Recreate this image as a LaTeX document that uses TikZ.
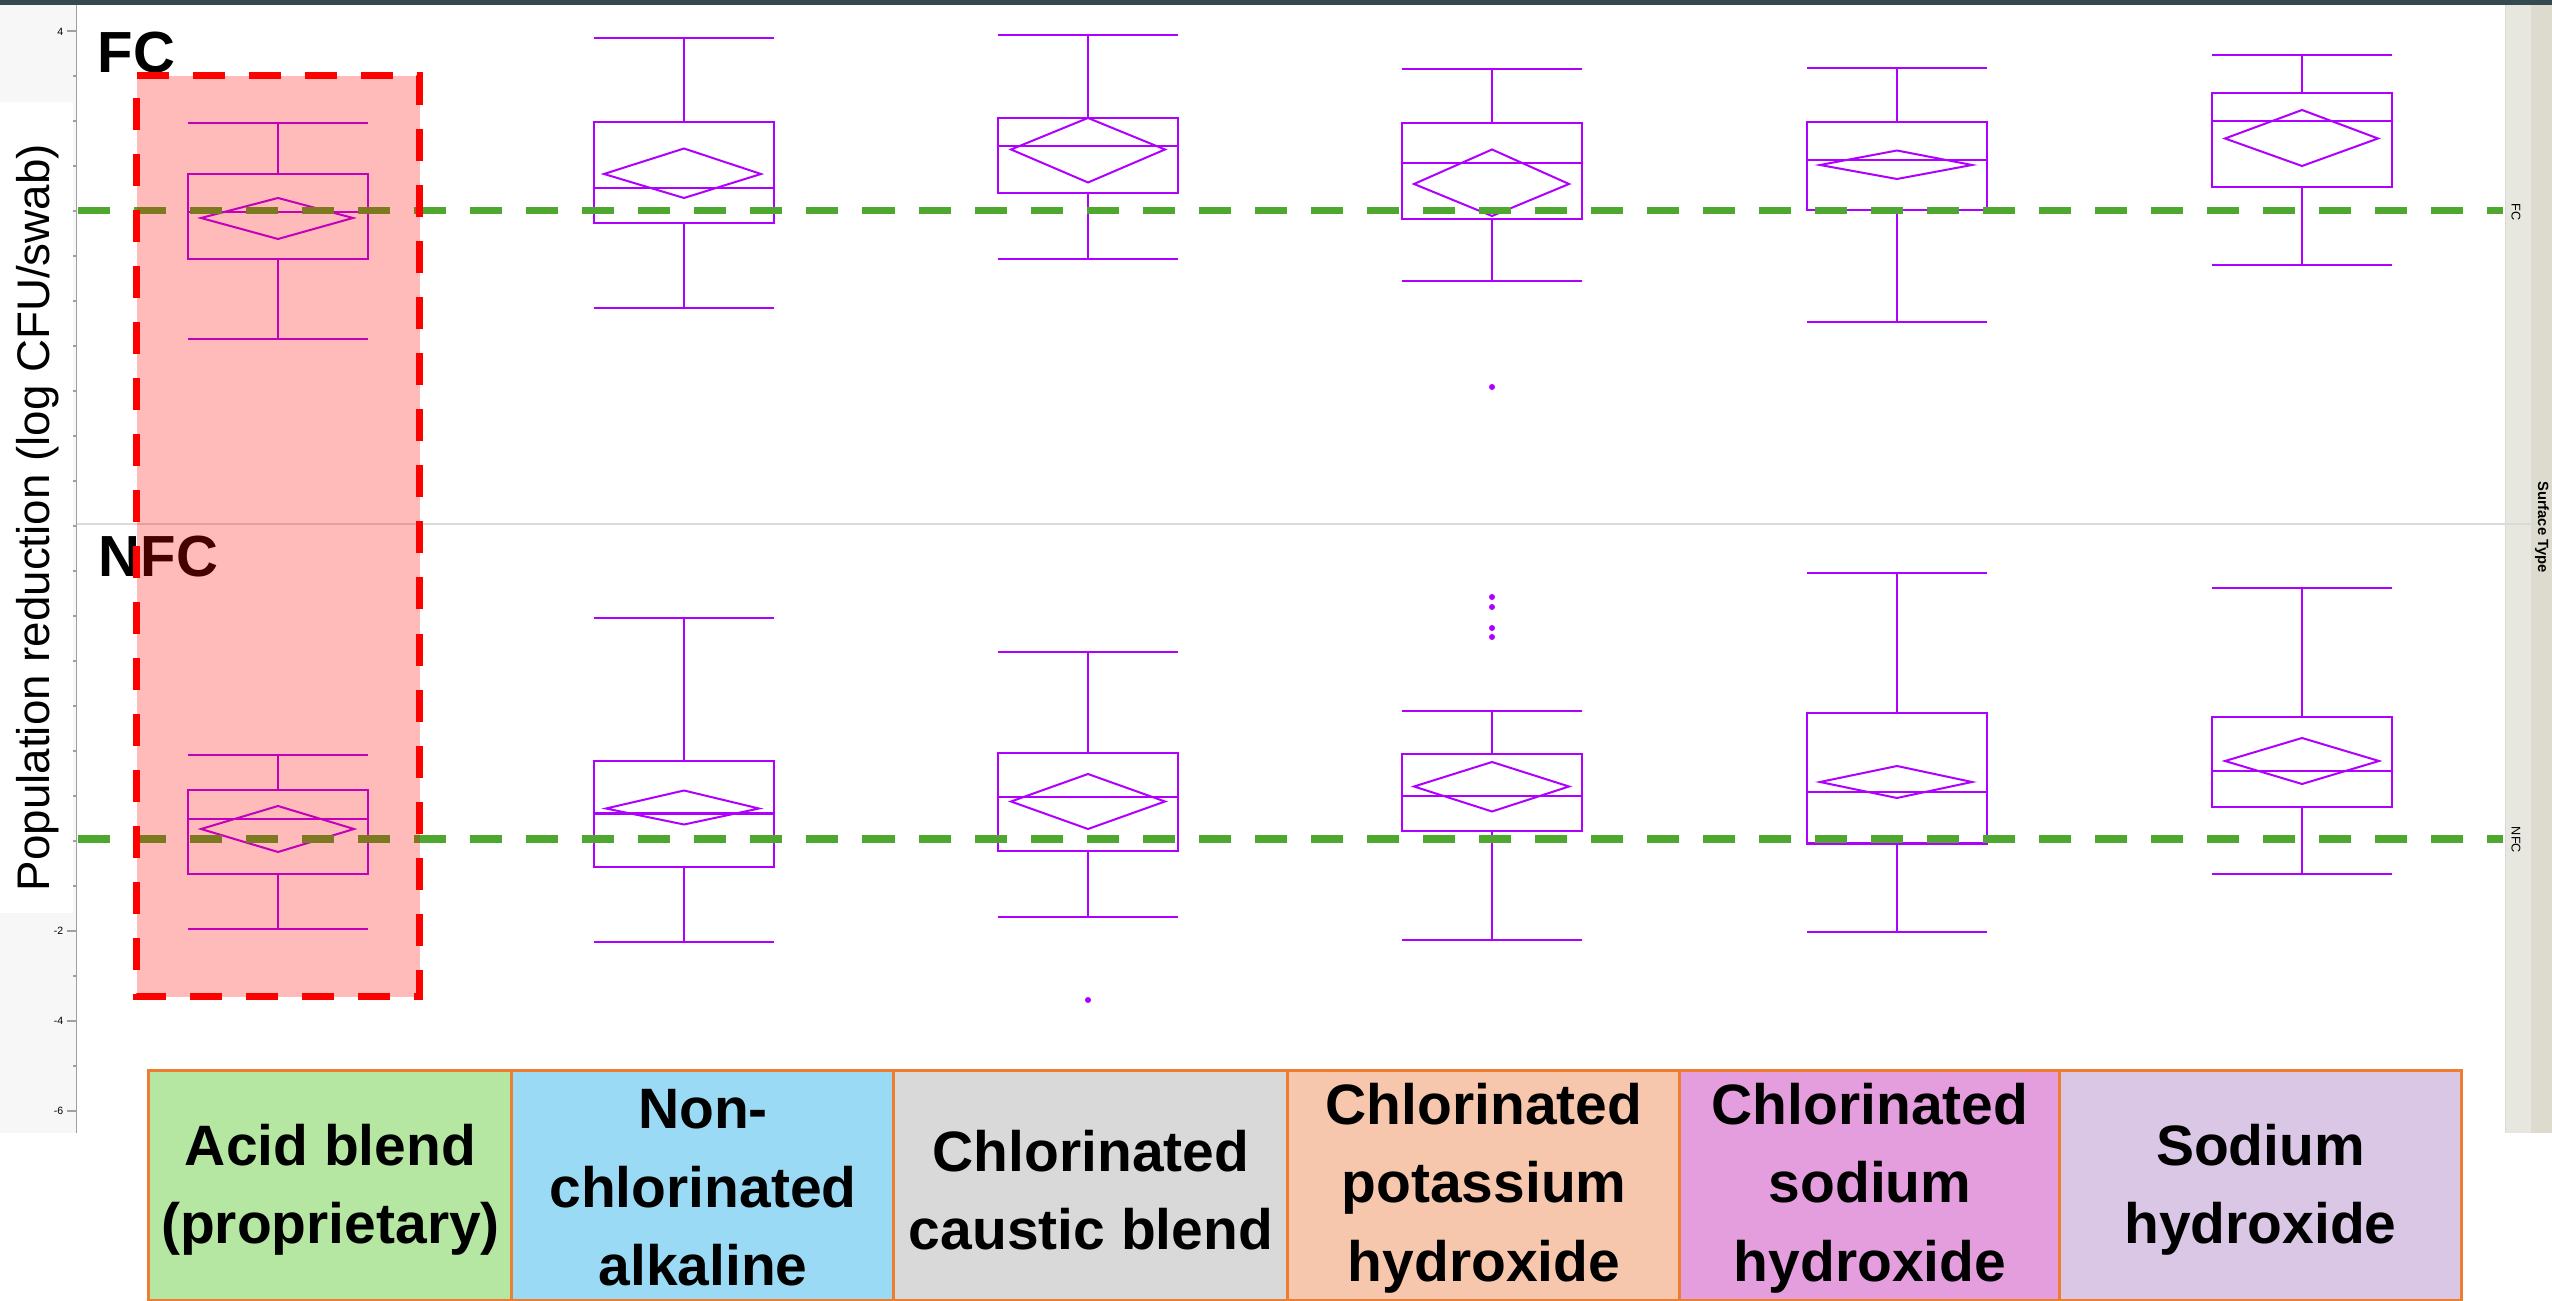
\documentclass[tikz,border=0pt]{standalone}
\usepackage{fontspec}
\setmainfont{Liberation Sans}
\definecolor{bp}{RGB}{175,0,255}
\definecolor{gl}{RGB}{78,167,46}
\definecolor{topbar}{RGB}{52,74,80}
\definecolor{panelgray}{RGB}{247,247,247}
\definecolor{axisgray}{RGB}{160,160,160}
\definecolor{divgray}{RGB}{218,218,218}
\definecolor{stripA}{RGB}{231,231,223}
\definecolor{stripB}{RGB}{220,219,206}
\definecolor{catborder}{RGB}{237,125,49}
\definecolor{cA}{RGB}{181,230,162}
\definecolor{cB}{RGB}{155,218,245}
\definecolor{cC}{RGB}{217,217,217}
\definecolor{cD}{RGB}{246,198,173}
\definecolor{cE}{RGB}{229,158,221}
\definecolor{cF}{RGB}{217,199,229}
\tikzset{
  bpline/.style={draw=bp, line width=0.02cm},
  gline/.style={draw=gl, line width=0.07cm, dash pattern=on 0.32cm off 0.24cm},
  reddash/.style={draw=red, line width=0.07cm, dash pattern=on 0.32cm off 0.24cm},
  catbox/.style={draw=catborder, line width=0.03cm, minimum height=2.29cm, align=center, inner sep=0pt,
     font=\fontsize{16.2pt}{22.3pt}\selectfont\bfseries},
  ticklab/.style={anchor=east, inner sep=0pt, font=\fontsize{3pt}{3.5pt}\selectfont},
  panellab/.style={anchor=base west, inner sep=0pt, font=\fontsize{16.5pt}{18pt}\selectfont\bfseries},
  striplab/.style={rotate=-90, inner sep=0pt, font=\fontsize{3.6pt}{4pt}\selectfont},
  tickmark/.style={draw=axisgray, line width=0.012cm},
}
\begin{document}
\begin{tikzpicture}[x=0.01cm, y=-0.01cm]
\useasboundingbox (0,0) rectangle (2552,1301);
\fill[white] (0,0) rectangle (2552,1301);
% top bar
\fill[topbar] (0,0) rectangle (2552,5);
% left axis panel
\fill[panelgray] (0,5) rectangle (76,1133);
% ticks (long = labelled values, short = odd values)
\foreach \yy in {31,121,211,301,391,481, 571,661,751,841,931,1021,1111}
  \draw[tickmark] (67,\yy) -- (76,\yy);
\foreach \yy in {76,166,256,346,436, 526,616,706,796,886,976,1066}
  \draw[tickmark] (73,\yy) -- (76,\yy);
\node[ticklab] (t4) at (64,32) {4};
\node[ticklab] (tm2) at (64,931) {-2};
\node[ticklab] (tm4) at (64,1021) {-4};
\node[ticklab] (tm6) at (64,1111) {-6};
% white label area
\fill[white] (0,102) rectangle (73,913);
\node[rotate=90, inner sep=0pt, font=\fontsize{13pt}{15pt}\selectfont] (ylab) at (38,517.5) {Population reduction (log CFU/swab)};
% axis line
\draw[axisgray, line width=0.015cm] (76.5,5) -- (76.5,1133);
% right strip
\fill[stripA] (2505,5) rectangle (2531,1133);
\fill[stripB] (2531,5) rectangle (2552,1133);
\draw[divgray, line width=0.01cm] (2505,5) -- (2505,1133);
% panel divider
\draw[divgray, line width=0.012cm] (77,524) -- (2531,524);
\node[striplab] (sfc) at (2516,212) {FC};
\node[striplab] (snfc) at (2516,840) {NFC};
\node[striplab, font=\fontsize{4.2pt}{5pt}\selectfont\bfseries] (stype) at (2542,527) {Surface Type};
% box plots
\foreach \x/\wt/\bt/\md/\bb/\wb/\dt/\dm/\db/\dl/\dr in {
  278/123/174/212/259/339/198/218/239/201/353,
  684/38/122/188/223/308/148.5/174/198/604/761,
  1088/35.5/118/146/193/259.5/118/149.5/182.5/1011/1165,
  1492/69.5/123/163.5/219/281/149.5/184/216/1414/1569,
  1897/68.5/122/160/210/322/150.5/165/179/1820/1972,
  2302/55/93.5/121/187/265/110/138.5/166/2225/2378,
  278/755.5/790/819/874/929/806/829/852/201/354,
  684/618/761/813.5/867/942/790.5/808.5/824.5/606/759,
  1088/652/753/797.5/851/917/774/801.5/829/1011/1165,
  1492/711.5/754/796/831/940/762/786.5/811.5/1414/1569,
  1897/573/713.5/792.5/843.5/932/766/782/798/1820/1972,
  2302/588/717/771/807/874/738/761/784/2225/2379} {
  \draw[bpline] (\x-90,\wt) -- (\x+90,\wt) (\x,\wt) -- (\x,\bt)
     (\x-90,\md) -- (\x+90,\md) (\x,\bb) -- (\x,\wb) (\x-90,\wb) -- (\x+90,\wb);
  \draw[bpline] (\x-90,\bt) rectangle (\x+90,\bb);
  \draw[bpline] (\dl,\dm) -- (\x,\dt) -- (\dr,\dm) -- (\x,\db) -- cycle;
}
% outliers
\foreach \ox/\oy in {1492/387, 1088/1000, 1492/597, 1492/607, 1492/628, 1492/637}
  \fill[bp] (\ox,\oy) circle (0.03cm);
% reference lines
\draw[gline] (78,211) -- (2503,211);
\draw[gline] (78,839) -- (2503,839);
% panel labels
\node[panellab] (fc) at (97,73) {FC};
\node[panellab] (nfc) at (98,577) {NFC};
% highlight
\fill[red, fill opacity=0.27] (136.5,76) rectangle (419.5,996.5);
\draw[reddash] (136.5,76) -- (419.5,76) -- (419.5,996.5) -- (136.5,996.5) -- cycle;
% category labels
\node[catbox, fill=cA, minimum width=3.63cm] (c1) at (330.5,1185.5) {};
\node[catbox, fill=cB, minimum width=3.82cm] (c2) at (703,1185.5) {};
\node[catbox, fill=cC, minimum width=3.94cm] (c3) at (1091,1185.5) {};
\node[catbox, fill=cD, minimum width=3.92cm] (c4) at (1484,1185.5) {};
\node[catbox, fill=cE, minimum width=3.80cm] (c5) at (1870,1185.5) {};
\node[catbox, fill=cF, minimum width=4.01cm] (c6) at (2260.5,1185.5) {};
\node[catbox, draw=none] (t1) at (330.5,1190) {Acid blend\\(proprietary)};
\node[catbox, draw=none] (t2) at (703,1188) {Non-\\chlorinated\\alkaline};
\node[catbox, draw=none] (t3) at (1091,1190) {Chlorinated\\caustic blend};
\node[catbox, draw=none] (t4b) at (1484,1188) {Chlorinated\\potassium\\hydroxide};
\node[catbox, draw=none] (t5) at (1870,1188) {Chlorinated\\sodium\\hydroxide};
\node[catbox, draw=none] (t6) at (2260.5,1190) {Sodium\\hydroxide};
\end{tikzpicture}
\end{document}
